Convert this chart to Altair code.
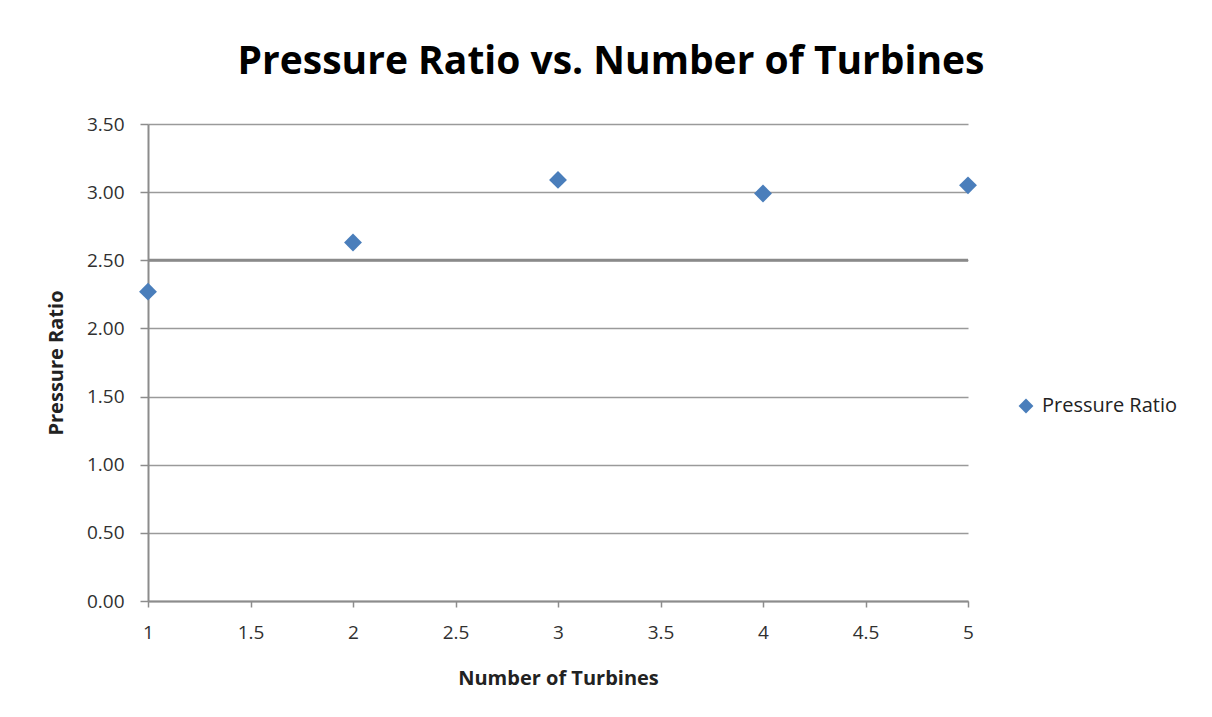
import altair as alt
import pandas as pd

turbines = [1, 2, 3, 4, 5]
pressure_ratio = [2.27, 2.63, 3.09, 2.99, 3.05]
series_name = "Pressure Ratio"
x_ticks = [1, 1.5, 2, 2.5, 3, 3.5, 4, 4.5, 5]
y_ticks = [0, 0.5, 1.0, 1.5, 2.0, 2.5, 3.0, 3.5]

df = pd.DataFrame({"turbines": turbines, "ratio": pressure_ratio,
                   "series": [series_name] * len(turbines)})

FONT = "Open Sans, sans-serif"

points = alt.Chart(df).mark_point(shape="diamond", filled=True, size=320, opacity=1).encode(
    x=alt.X("turbines:Q",
            scale=alt.Scale(domain=[1, 5], nice=False, zero=False),
            axis=alt.Axis(values=x_ticks, title="Number of Turbines", grid=False,
                          labelFlush=False,
                          labelExpr="format(datum.value, '~g')")),
    y=alt.Y("ratio:Q",
            scale=alt.Scale(domain=[0, 3.5], nice=False),
            axis=alt.Axis(values=y_ticks, format=".2f", title="Pressure Ratio", grid=True)),
    color=alt.Color("series:N", scale=alt.Scale(range=["#4a7ebb"]),
                    legend=alt.Legend(title=None, orient="none", legendX=868, legendY=272,
                                      symbolType="diamond", symbolSize=220,
                                      labelFontSize=20, labelFont=FONT, labelOffset=6,
                                      labelColor="#222222")),
)

thick = alt.Chart(pd.DataFrame({"y": [2.5]})).mark_rule(color="#8a8a8a", strokeWidth=3).encode(
    y=alt.Y("y:Q")
)

chart = alt.layer(thick, points).properties(
    width=820, height=477,
    title=alt.TitleParams("Pressure Ratio vs. Number of Turbines", fontSize=39, font=FONT,
                          fontWeight="bold", color="#000000", anchor="middle", dx=53,
                          offset=33),
    padding={"left": 140, "top": 116, "right": 236, "bottom": 108},
    autosize=alt.AutoSizeParams(type="none"),
).configure_view(stroke=None).configure_axis(
    domainColor="#8c8c8c", domainWidth=2, tickColor="#8c8c8c", tickWidth=1.5,
    gridColor="#9a9a9a", gridWidth=1.5,
    labelFont=FONT, labelFontSize=19, labelColor="#303030",
    titleFont=FONT, titleFontSize=20, titleFontWeight="bold", titleColor="#222222",
).configure_axisY(
    tickSize=8, labelPadding=16, titlePadding=20
).configure_axisX(
    tickSize=6, labelPadding=16, titlePadding=26
)

chart.save("out.html", embed_options={"renderer": "svg", "actions": False})
